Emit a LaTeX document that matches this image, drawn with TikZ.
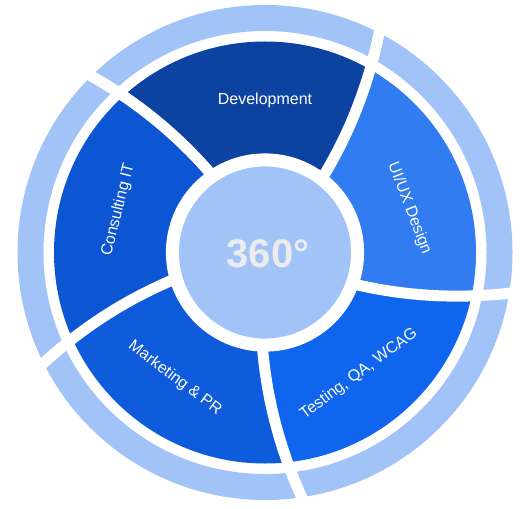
\documentclass[tikz,border=0pt]{standalone}
\usepackage{fontspec}
\setmainfont{Liberation Sans}
\definecolor{devblue}{HTML}{0C42A0}
\definecolor{itblue}{HTML}{0D56D3}
\definecolor{mkblue}{HTML}{0E5BDC}
\definecolor{qablue}{HTML}{0F65EE}
\definecolor{uxblue}{HTML}{317CF0}
\definecolor{paleblue}{HTML}{A2C3F8}
\definecolor{numgray}{HTML}{ECECEC}

\begin{document}
\begin{tikzpicture}[x=1pt, y=1pt,
	gap/.style={white, line width=11pt},
	lbl/.style={white, font=\fontsize{16}{19}\selectfont},
	num/.style={numgray, font=\fontsize{40}{48}\selectfont\bfseries}]
	\useasboundingbox (-265, -255.5) rectangle (256, 252.5);

	\begin{scope}
		\clip (0, 0) circle[radius=211];
		\foreach \a/\c in {52.8/devblue, 124.8/itblue, 196.8/mkblue, 268.8/qablue, 340.8/uxblue}
			\fill[\c] plot[domain=80:262] ({\a+0.066*(\x-100)}:\x) arc[start angle={\a+0.066*162}, delta angle=72, radius=262] -- plot[domain=262:80] ({\a+72+0.066*(\x-100)}:\x) -- cycle;
	\end{scope}
	\draw[paleblue, line width=26pt] (0, 0) circle[radius=234.5];
	\foreach \a in {52.8, 124.8, 196.8, 268.8, 340.8}
		\draw[gap] plot[domain=90:262] ({\a+0.066*(\x-100)}:\x);
	\draw[white, line width=13pt, fill=paleblue] (0, 0) circle[radius=92.6];

	\node[num] (deg) at (3, -1) {360°};
	\node[lbl] (dev) at (90:152) {Development};
	\node[lbl, rotate=-69] (ux) at (17:151) {UI/UX Design};
	\node[lbl, rotate=36.5] (qa) at (-52.3:153.6) {Testing, QA, WCAG};
	\node[lbl, rotate=-37] (mk) at (234.4:154.7) {Marketing \& PR};
	\node[lbl, rotate=76] (it) at (163.8:152.7) {Consulting IT};
\end{tikzpicture}
\end{document}
